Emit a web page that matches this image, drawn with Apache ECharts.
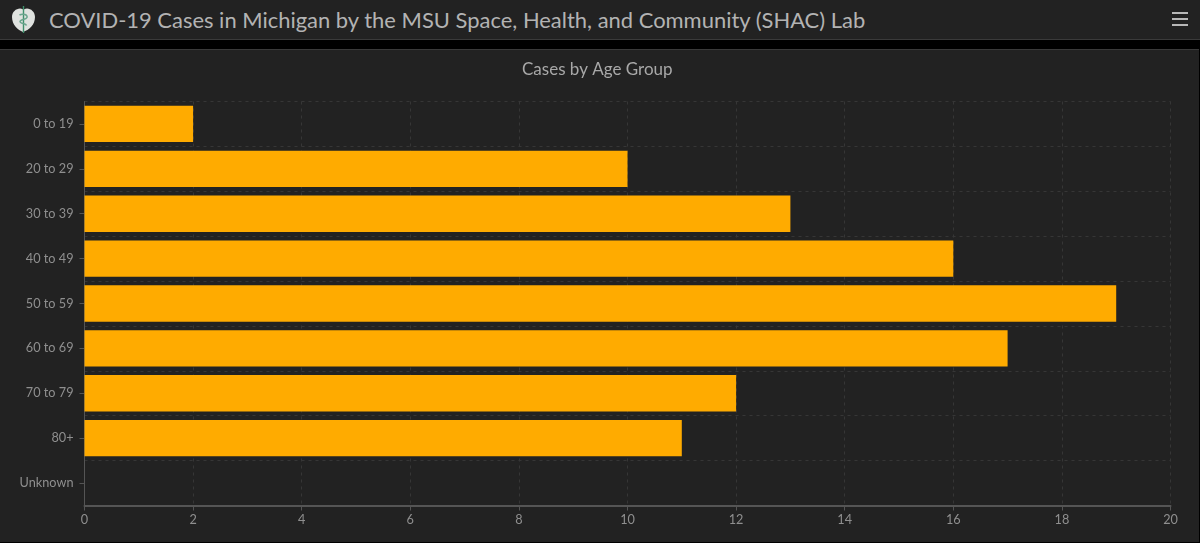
<!DOCTYPE html>
<html>
<head>
<meta charset="utf-8">
<title>COVID-19 Cases in Michigan</title>
<script src="https://cdn.jsdelivr.net/npm/echarts@6/dist/echarts.min.js"></script>
<style>
    html,body{margin:0;padding:0;background:#000;overflow:hidden;}
    .header{
        position:absolute;left:0;top:0;width:1200px;height:39px;
        background:#222;border-bottom:1px solid #3a3a3a;
    }
    .header .name{
        position:absolute;left:49px;top:6px;line-height:28px;
        font-family:Lato,sans-serif;font-size:21.95px;color:#b3b3b3;white-space:nowrap;
    }
    .header svg{position:absolute;}
    .menu i{
        position:absolute;left:1172px;width:16px;height:2px;background:#b8b8b8;display:block;
    }
    #chart{
        position:absolute;left:0;top:49px;width:1199px;height:492px;
        background:#222;border-top:1px solid #3a3a3a;
    }
</style>
</head>
<body>
<div class="header">
    <svg style="left:11px;top:5px" width="25" height="29" viewBox="0 0 25 29">
        <path d="M12 27C7 25 1 20 1 12C1 7 5 3.500 9 3.500C11 3.500 12 4.500 12.500 5C13 4.500 14 3.500 16 3.500C20 3.500 24 7 24 12C24 20 18 25 12 27Z" fill="#dfe2df"/>
        <path d="M11.800 1H13.200V28H11.800Z" fill="#3f8f6c"/>
        <path d="M8.500 10C12 8 17 10 16 12.500C15 15 9 14 9 16.500C9 19 15 18 15.500 20.500" fill="none" stroke="#6aa58d" stroke-width="1.500"/>
    </svg>
    <div class="name">COVID-19 Cases in Michigan by the MSU Space, Health, and Community (SHAC) Lab</div>
    <div class="menu"><i style="top:11.500px"></i><i style="top:17.500px"></i><i style="top:23.500px"></i></div>
</div>
<div id="chart"></div>
<script>
    const categories=['0 to 19','20 to 29','30 to 39','40 to 49','50 to 59','60 to 69','70 to 79','80+','Unknown']
    const cases=[2,10,13,16,19,17,12,11,0]
    const xTicks=[0,2,4,6,8,10,12,14,16,18,20]

    const mychart=echarts.init(document.getElementById('chart'))
    mychart.setOption({
        animation:false,
        backgroundColor:'#222222',
        title:{
            text:'Cases by Age Group',
            left:517,
            top:6,
            textStyle:{
                color:'#a8a8a8',
                fontFamily:'Lato',
                fontSize:17,
                fontWeight:'normal'
            }
        },
        grid:{
            left:84.5,
            right:28.5,
            top:51.5,
            bottom:36.5
        },
        xAxis:{
            type:'value',
            min:xTicks[0],
            max:xTicks[xTicks.length-1],
            interval:2,
            axisLine:{
                show:true,
                lineStyle:{color:'#555555',width:2}
            },
            axisTick:{
                show:true,
                length:5,
                lineStyle:{color:'#555555'}
            },
            axisLabel:{
                color:'#8f8f8f',
                fontFamily:'Lato',
                fontSize:12.7,
                margin:8
            },
            splitLine:{
                show:true,
                lineStyle:{color:'#363636',type:[3,4]}
            }
        },
        yAxis:{
            type:'category',
            inverse:true,
            data:categories,
            axisLine:{
                show:true,
                lineStyle:{color:'#555555'}
            },
            axisTick:{
                show:true,
                alignWithLabel:true,
                length:5,
                lineStyle:{color:'#555555'}
            },
            axisLabel:{
                color:'#8f8f8f',
                fontFamily:'Lato',
                fontSize:12.7,
                margin:11,
                padding:[4,0,0,0]
            },
            splitLine:{
                show:true,
                lineStyle:{color:'#363636',type:[3,4]}
            }
        },
        series:[
            {
                name:'Cases',
                type:'bar',
                data:cases,
                barWidth:'81%',
                itemStyle:{color:'#ffab00'}
            }
        ]
    })
</script>
</body>
</html>
